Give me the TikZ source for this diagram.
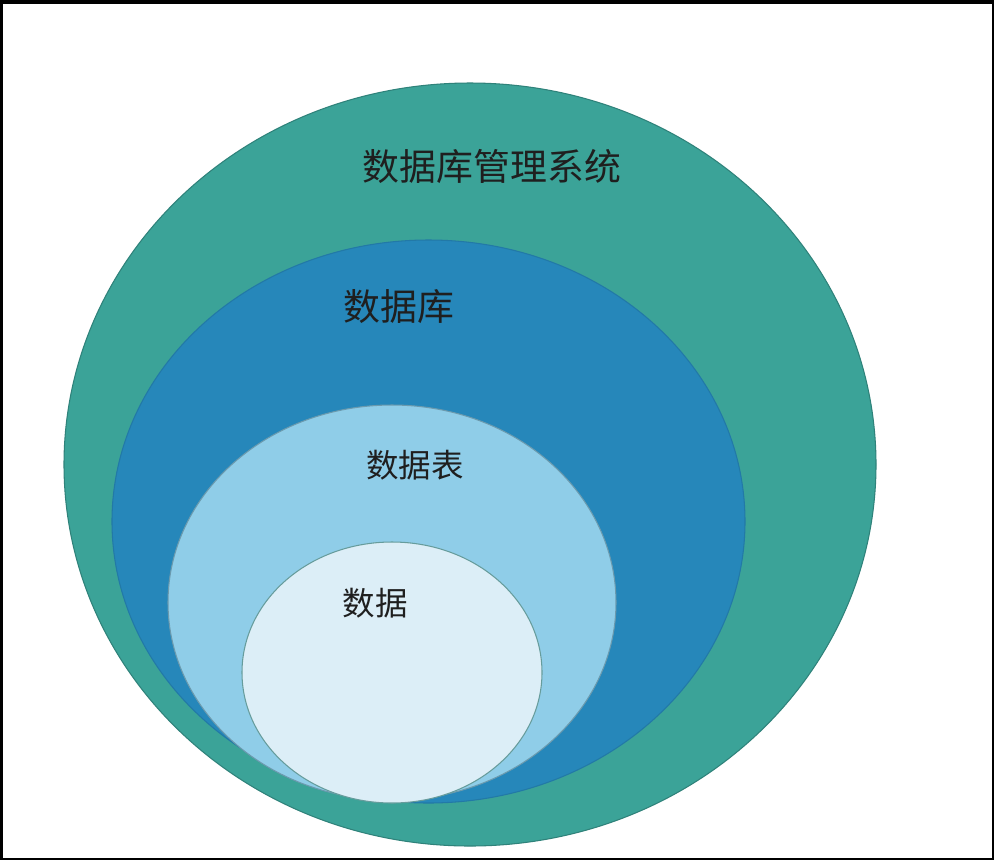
\documentclass[tikz,border=0pt]{standalone}
\usepackage{fontspec}
\usepackage{xcolor}
\usepackage{tikz}
\usetikzlibrary{positioning}
\newfontfamily\cjk{Noto Sans CJK SC}
\definecolor{dbmsteal}{HTML}{3BA398}
\definecolor{dbblue}{HTML}{2687BA}
\definecolor{tablelight}{HTML}{8FCDE8}
\definecolor{datapale}{HTML}{DCEEF7}

\begin{document}
\begin{tikzpicture}[x=0.02cm, y=-0.02cm]
 \tikzset{layer/.style={line width=0.6pt}, tag/.style={inner sep=0pt, text=black!88, font=\cjk}};
  % frame
  \fill[black] (0,0) rectangle (994,860);
  \fill[white] (3,4) rectangle (992,858);
  % nested sets
  \draw[layer, fill=dbmsteal, draw=dbmsteal!80!black] (470,464.5) ellipse (406 and 381.5);
  \draw[layer, fill=dbblue, draw=dbblue!90!black] (428.5,521.5) ellipse (316.5 and 281.5);
  \draw[layer, fill=tablelight, draw=tablelight!75!black] (392,602.5) ellipse (224 and 197.5);
  \draw[layer, fill=datapale, draw=black!30!teal!60] (392,672.5) ellipse (150 and 130.5);
  % labels
  \node[tag, font=\cjk\fontsize{21}{25}\selectfont] (dbms) at (492,166) {数据库管理系统};
  \node[tag, font=\cjk\fontsize{21}{25}\selectfont] (db) at (399,307) {数据库};
  \node[tag, font=\cjk\fontsize{18.5}{22}\selectfont] (table) at (415,465) {数据表};
  \node[tag, font=\cjk\fontsize{18.5}{22}\selectfont] (data) at (375,603) {数据};
\end{tikzpicture}
\end{document}
